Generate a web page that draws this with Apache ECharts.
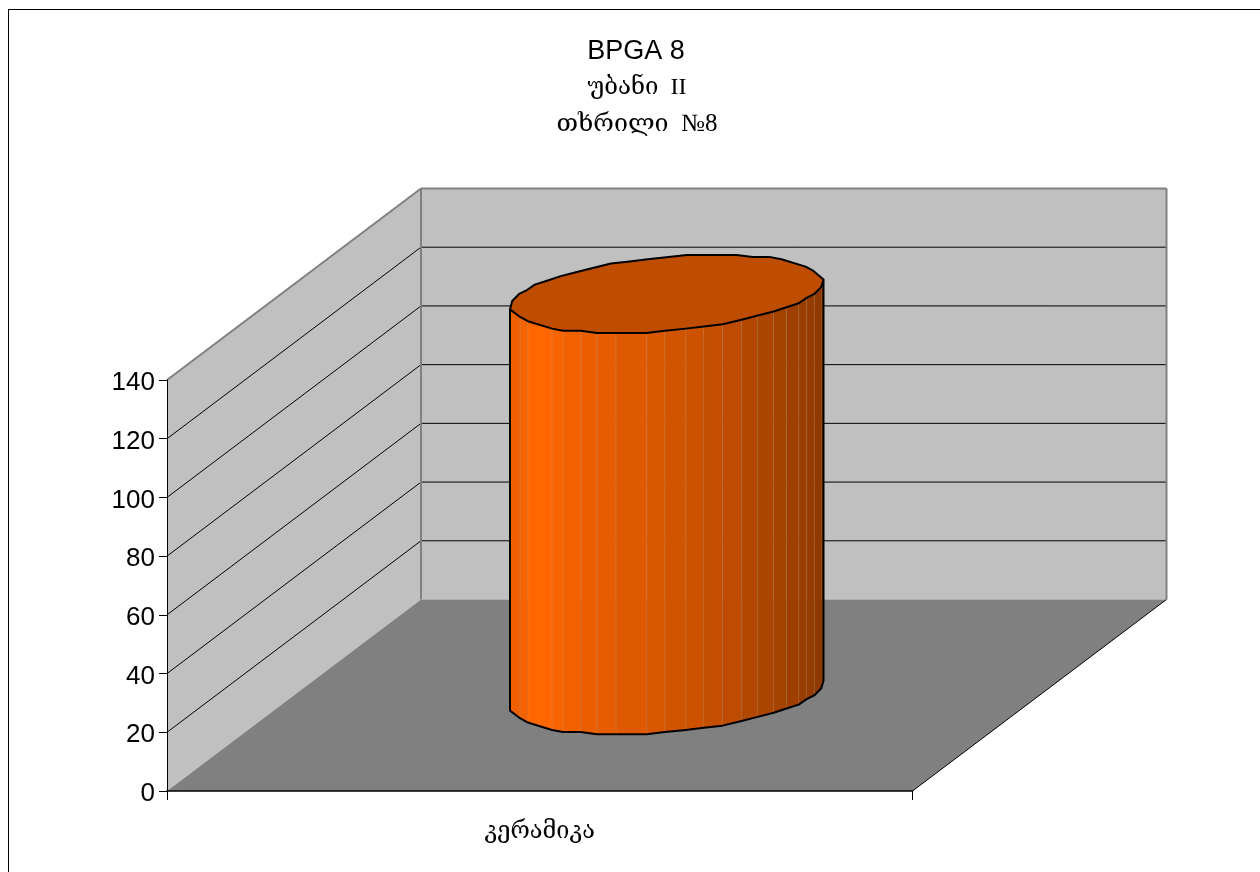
<!DOCTYPE html>
<html>
<head>
<meta charset="utf-8">
<style>html,body{margin:0;padding:0;background:#fff}#c{width:1260px;height:872px}</style>
<script src="https://cdn.jsdelivr.net/npm/echarts@6/dist/echarts.min.js"></script>
</head>
<body>
<div id="c"></div>
<script>
const categories = ['კერამიკა'];
const seriesValues = [136.7];
const yTicks = [0, 20, 40, 60, 80, 100, 120, 140];
const titleLines = ['BPGA 8', 'უბანი  II', 'თხრილი  №8'];

// styling of the oblique projection: wall depth, and the faceted outline of the cylinder
const DEPTH_X = 254, DEPTH_Y = 191.5;
const BAR_FRACTION = 0.397, DEPTH_FRACTION = 0.407;
const facetStops = [0,.032,.057,.134,.169,.226,.277,.338,.436,.494,.561,.618,.678,.739,.79,.841,.882,.921,.946,.971,.993,1];
const facetDepth = [.395,.59,.70,.89,.945,.945,1,1,1,.945,.89,.835,.78,.66,.555,.45,.34,.24,.10,0,-.18,-.37];
const facetShades = [.94,.96,1,.97,.95,.92,.9,.875,.85,.82,.80,.77,.74,.70,.675,.645,.62,.605,.59,.56,.56];
const SERIF = '"Liberation Serif","DejaVu Serif","Noto Sans",serif';
const SANS = '"Liberation Sans",Arial,sans-serif';

function shade(s){ return 'rgb(' + Math.round(255*s) + ',' + Math.round(102*s) + ',0)'; }
function poly(points, style){ return {type:'polygon', shape:{points}, style}; }
function seg(a, b, stroke, w){
  return {type:'line', shape:{x1:a[0],y1:a[1],x2:b[0],y2:b[1]}, style:{stroke, lineWidth:w, fill:null}};
}

function renderWalls(params, api){
  const cs = params.coordSys, L = cs.x, R = cs.x + cs.width;
  const y0 = api.coord([0, yTicks[0]])[1], yT = api.coord([0, yTicks[yTicks.length-1]])[1];
  const ch = [];
  const back = p => [p[0] + DEPTH_X, p[1] - DEPTH_Y];
  ch.push(poly([[L,yT],back([L,yT]),back([L,y0]),[L,y0]], {fill:'#c0c0c0'}));
  ch.push(poly([back([L,yT]),back([R,yT]),back([R,y0]),back([L,y0])], {fill:'#c0c0c0'}));
  ch.push(poly([[L,y0],back([L,y0]),back([R,y0]),[R,y0]], {fill:'#808080'}));
  yTicks.slice(1, -1).forEach(v => {
    const y = api.coord([0, v])[1];
    ch.push(seg([L,y], back([L,y]), '#000', 1));
    ch.push(seg(back([L,y]), back([R,y]), '#000', 1));
  });
  ch.push(seg(back([R,y0]), [R,y0], '#000', 1));
  ch.push(seg([L,yT], back([L,yT]), '#808080', 2));
  ch.push(seg(back([L,yT]), back([R,yT]), '#808080', 2));
  ch.push(seg(back([R,yT]), back([R,y0]), '#808080', 2));
  ch.push(seg(back([L,yT]), back([L,y0]), '#808080', 2));
  return {type:'group', children:ch};
}

function renderCylinder(params, api){
  const idx = api.value(0), val = api.value(1);
  const base = api.coord([idx, 0]), top = api.coord([idx, val]);
  const band = api.size([1, 0])[0];
  const cx = base[0] + DEPTH_X/2, cyB = base[1] - DEPTH_Y/2, cyT = top[1] - DEPTH_Y/2;
  const rx = band*BAR_FRACTION/2, dx = DEPTH_X*DEPTH_FRACTION/2, dy = DEPTH_Y*DEPTH_FRACTION/2;
  const A = Math.hypot(rx, dx);
  const off = facetStops.map((f, i) => [A*(2*f - 1), dy*facetDepth[i]]);
  const at = (o, cy) => [cx + o[0], cy + o[1]];
  const ch = [];
  facetShades.forEach((s, i) => {
    ch.push(poly([at(off[i],cyT),at(off[i+1],cyT),at(off[i+1],cyB),at(off[i],cyB)],
      {fill:shade(s), stroke:shade(s), lineWidth:0.4}));
  });
  for (let i = 1; i < off.length-2; i++){
    ch.push(seg(at(off[i],cyT), at(off[i],cyB), 'rgba(190,170,150,0.28)', 1));
  }
  const outline = [at(off[0],cyT)].concat(off.map(o => at(o,cyB)), [at(off[off.length-1],cyT)]);
  ch.push({type:'polyline', shape:{points:outline}, style:{stroke:'#000', lineWidth:2, fill:null, lineJoin:'round'}});
  const rimPts = off.map(o => at(o,cyT)).concat(off.slice(1,-1).map(o => at([-o[0],-o[1]],cyT)));
  ch.push(poly(rimPts, {fill:'#bf4d00', stroke:'#000', lineWidth:2, lineJoin:'round'}));
  return {type:'group', children:ch};
}

const chart = echarts.init(document.getElementById('c'), null, {renderer:'canvas'});
chart.setOption({
  animation:false,
  backgroundColor:'#fff',
  title:[
    {text:titleLines[0], left:631, top:33, textAlign:'center', textStyle:{fontFamily:SANS, fontSize:27, fontWeight:'normal', color:'#000'}},
    {text:titleLines[1], left:632, top:71, textAlign:'center', textStyle:{fontFamily:SERIF, fontSize:24, fontWeight:'normal', color:'#000'}},
    {text:titleLines[2], left:632, top:107, textAlign:'center', textStyle:{fontFamily:SERIF, fontSize:25, fontWeight:'normal', color:'#000'}}
  ],
  grid:{left:167, top:380, width:745.5, height:411, containLabel:false},
  xAxis:{type:'category', data:categories, z:5,
    axisLine:{lineStyle:{color:'#000', width:1.5}},
    axisTick:{show:true, length:9, alignWithLabel:false, lineStyle:{color:'#000', width:1}},
    axisLabel:{margin:29, fontFamily:SERIF, fontSize:23.5, color:'#000'},
    splitLine:{show:false}},
  yAxis:{type:'value', min:0, max:140, interval:20, z:5,
    axisLine:{show:true, lineStyle:{color:'#000', width:1}},
    axisTick:{show:true, length:8, lineStyle:{color:'#000', width:1}},
    axisLabel:{margin:12, formatter:'{v|{value}}',
      rich:{v:{padding:[6,0,0,0], fontFamily:SANS, fontSize:26, color:'#000'}}},
    splitLine:{show:false}},
  series:[
    {type:'custom', name:'walls', z:1, silent:true, clip:false, renderItem:renderWalls, data:[[0, 0]], encode:{x:0, y:1}},
    {type:'custom', name:'cylinder', z:2, silent:true, clip:false, renderItem:renderCylinder,
      data:seriesValues.map((v,i) => [i, v]), encode:{x:0, y:1}}
  ],
  graphic:[
    {type:'line', z:10, shape:{x1:8.5,y1:10,x2:8.5,y2:872}, style:{stroke:'#000', lineWidth:1}},
    {type:'line', z:10, shape:{x1:8,y1:9.5,x2:1260,y2:9.5}, style:{stroke:'#000', lineWidth:1}}
  ]
});
</script>
</body>
</html>
